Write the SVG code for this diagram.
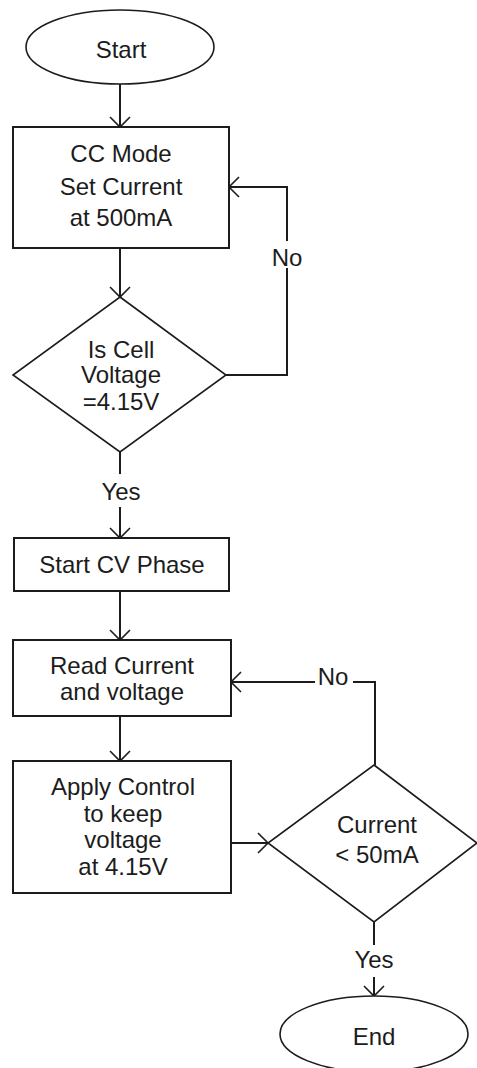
<svg xmlns="http://www.w3.org/2000/svg" width="477" height="1068" viewBox="0 0 477 1068">
<style>
.box{fill:#fff;stroke:#1c1c1c;stroke-width:2}
.shape{fill:#fff;stroke:#1c1c1c;stroke-width:1.6}
.con{fill:none;stroke:#1c1c1c;stroke-width:2}
text{font-family:"Liberation Sans",Arial,sans-serif;font-size:24px;fill:#1c1c1c;text-anchor:middle}
</style>
<defs>
<marker id="arr" markerUnits="userSpaceOnUse" markerWidth="24" markerHeight="24" viewBox="-12 -12 24 24" refX="0" refY="0" orient="auto" overflow="visible">
<path d="M-10,-10 L0,0 L-10,10" fill="none" stroke="#1c1c1c" stroke-width="1.6"/>
</marker>
</defs>
<rect width="477" height="1068" fill="#fff"/>
<g id="connectors">
<path class="con" d="M120,84 V127" marker-end="url(#arr)"/>
<path class="con" d="M120,248 V297" marker-end="url(#arr)"/>
<path class="con" d="M226,375 H287 V268"/>
<path class="con" d="M287,241 V187 H229" marker-end="url(#arr)"/>
<path class="con" d="M120,452 V474"/>
<path class="con" d="M120,507 V538" marker-end="url(#arr)"/>
<path class="con" d="M120,591 V640" marker-end="url(#arr)"/>
<path class="con" d="M120,716 V761" marker-end="url(#arr)"/>
<path class="con" d="M231,843 H268" marker-end="url(#arr)"/>
<path class="con" d="M375,765 V682 H353"/>
<path class="con" d="M315,682 H231" marker-end="url(#arr)"/>
<path class="con" d="M374,922 V945"/>
<path class="con" d="M374,977 V996" marker-end="url(#arr)"/>
<text x="287" y="266">No</text>
<text x="121" y="500">Yes</text>
<text x="333" y="685">No</text>
<text x="374" y="968">Yes</text>
</g>
<g id="start">
<ellipse class="shape" cx="120" cy="47" rx="94" ry="37"/>
<text x="121" y="58">Start</text>
</g>
<g id="cc-mode">
<rect class="box" x="13" y="127" width="216" height="121"/>
<text x="121" y="162">CC Mode</text>
<text x="121" y="195">Set Current</text>
<text x="121" y="226">at 500mA</text>
</g>
<g id="check-voltage">
<polygon class="shape" points="120,297 226,375 120,452 13,375"/>
<text x="121" y="358">Is Cell</text>
<text x="121" y="383">Voltage</text>
<text x="121" y="410">=4.15V</text>
</g>
<g id="start-cv">
<rect class="box" x="14" y="538" width="215" height="53"/>
<text x="122" y="573">Start CV Phase</text>
</g>
<g id="read">
<rect class="box" x="13" y="640" width="218" height="76"/>
<text x="122" y="674">Read Current</text>
<text x="122" y="700">and voltage</text>
</g>
<g id="apply">
<rect class="box" x="13" y="761" width="218" height="132"/>
<text x="123" y="795">Apply Control</text>
<text x="123" y="822">to keep</text>
<text x="123" y="848">voltage</text>
<text x="123" y="875">at 4.15V</text>
</g>
<g id="check-current">
<polygon class="shape" points="374,765 477,843 374,922 268,843"/>
<text x="377" y="833">Current</text>
<text x="377" y="863">&lt; 50mA</text>
</g>
<g id="end">
<ellipse class="shape" cx="374" cy="1034" rx="94" ry="38"/>
<text x="374" y="1045">End</text>
</g>
</svg>
